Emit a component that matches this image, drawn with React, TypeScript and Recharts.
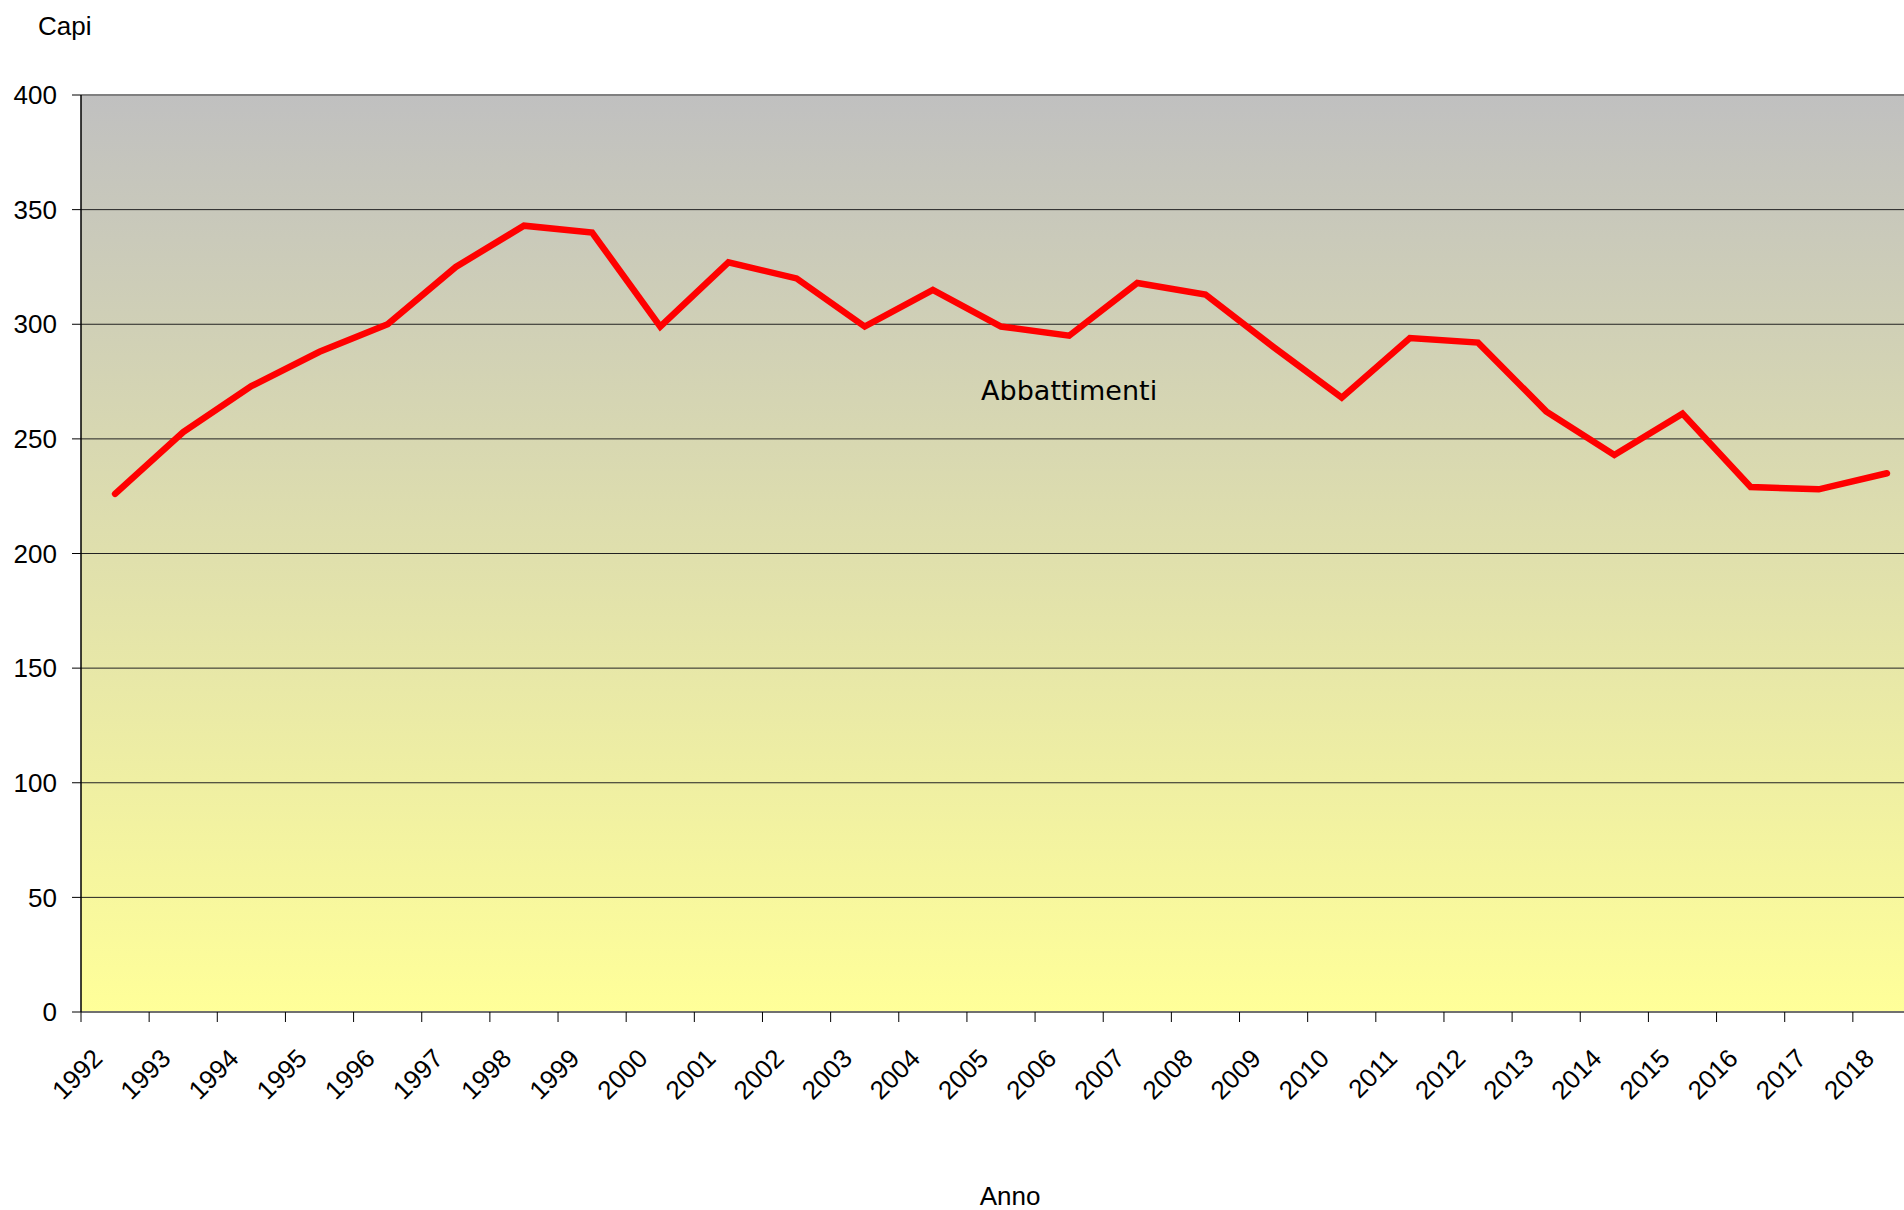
import React from 'react';
import {
  LineChart,
  Line,
  XAxis,
  YAxis,
  CartesianGrid,
  ReferenceLine,
  ReferenceDot,
} from 'recharts';

const years = [
  1992, 1993, 1994, 1995, 1996, 1997, 1998, 1999, 2000, 2001, 2002, 2003, 2004, 2005,
  2006, 2007, 2008, 2009, 2010, 2011, 2012, 2013, 2014, 2015, 2016, 2017, 2018,
];
const abbattimenti = [
  226, 253, 273, 288, 300, 325, 343, 340, 299, 327, 320, 299, 315, 299,
  295, 318, 313, 290, 268, 294, 292, 262, 243, 261, 229, 228, 235,
];
const yTicks = [0, 50, 100, 150, 200, 250, 300, 350, 400];
const seriesName = 'Abbattimenti';

const data = years.map((year, i) => ({ year, value: abbattimenti[i] }));
// tick marks sit between categories, like the original
const xTicks = years.map((y) => y - 0.5);

const tickFont = "'Liberation Sans', Arial, sans-serif";

const XTick = (props: any) => {
  const { x, y, payload } = props;
  const ax = x + 23;
  const ay = y + 36;
  return (
    <text
      x={ax}
      y={ay}
      transform={`rotate(-45, ${ax}, ${ay})`}
      textAnchor="end"
      fontSize={26}
      fontFamily={tickFont}
      fill="#000"
    >
      {String(Math.round(payload.value + 0.5))}
    </text>
  );
};

const CapiLabel = (props: any) => {
  const { viewBox } = props;
  return (
    <text x={viewBox.x + 38} y={viewBox.y - 60} fontSize={26} fontFamily={tickFont} fill="#000">
      Capi
    </text>
  );
};

const AnnoLabel = (props: any) => {
  const { viewBox } = props;
  return (
    <text
      x={viewBox.x + viewBox.width / 2 + 9}
      y={viewBox.y + viewBox.height - 5}
      textAnchor="middle"
      fontSize={26}
      fontFamily={tickFont}
      fill="#000"
    >
      Anno
    </text>
  );
};

const App = () => (
  <div
    style={{
      position: 'fixed',
      left: 0,
      top: 0,
      width: 1904,
      height: 1210,
      overflow: 'hidden',
      background: '#fff',
    }}
  >
    <LineChart
      width={1924}
      height={1210}
      data={data}
      margin={{ top: 95, right: 3, left: 0, bottom: 0 }}
      style={{ fontFamily: tickFont }}
    >
      <defs>
        <linearGradient id="plotBg" x1="0" y1="0" x2="0" y2="1">
          <stop offset="0%" stopColor="#C0C0C0" />
          <stop offset="100%" stopColor="#FFFF99" />
        </linearGradient>
      </defs>
      <CartesianGrid
        vertical={false}
        stroke="#222"
        strokeWidth={1}
        fill="url(#plotBg)"
        fillOpacity={1}
      />
      <XAxis
        dataKey="year"
        type="number"
        domain={[1991.5, 2018.5]}
        ticks={xTicks}
        interval={0}
        allowDataOverflow
        height={198}
        tickSize={10}
        tickMargin={2}
        tickLine={{ stroke: '#000' }}
        axisLine={{ stroke: '#707070', strokeWidth: 2 }}
        tick={<XTick />}
        label={<AnnoLabel />}
      />
      <YAxis
        domain={[0, 400]}
        ticks={yTicks}
        interval={0}
        width={81}
        tickSize={9}
        tickMargin={15}
        tickLine={{ stroke: '#000' }}
        axisLine={{ stroke: '#000', strokeWidth: 1.5 }}
        tick={{ fontSize: 26, fontFamily: tickFont, fill: '#000' }}
        label={<CapiLabel />}
      />
      <ReferenceLine y={400} stroke="#808080" strokeWidth={2} />
      <Line
        type="linear"
        dataKey="value"
        stroke="#FF0000"
        strokeWidth={6.5}
        strokeLinecap="round"
        dot={false}
        activeDot={false}
        isAnimationActive={false}
      />
      <ReferenceDot
        x={2006}
        y={271}
        r={0}
        fill="none"
        stroke="none"
        ifOverflow="visible"
        label={{
          value: seriesName,
          position: 'center',
          fontSize: 27,
          fontFamily: "'DejaVu Sans', Verdana, sans-serif",
          fill: '#000',
        }}
      />
    </LineChart>
  </div>
);

export default App;
